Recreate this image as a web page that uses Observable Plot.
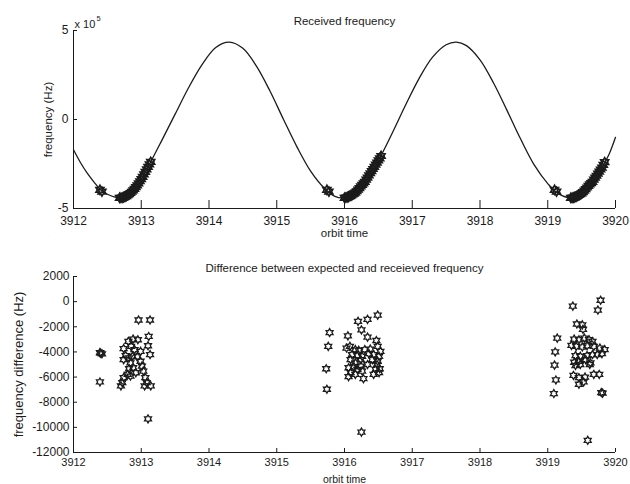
<!DOCTYPE html>
<html><head><meta charset="utf-8">
<script src="https://cdn.jsdelivr.net/npm/d3@7"></script>
<script src="https://cdn.jsdelivr.net/npm/@observablehq/plot@0.6"></script>
<style>
body{margin:0;background:#fff;}
#chart svg{display:block;}
</style>
</head><body><div id="chart"></div>
<script>
// ---- Data ----
const timeTicks = [3912, 3913, 3914, 3915, 3916, 3917, 3918, 3919, 3920];
const freqTicks = [-5e5, 0, 5e5];
const diffTicks = [-12000, -10000, -8000, -6000, -4000, -2000, 0, 2000];

// received frequency curve (orbit time, Hz)
const curveTime = [3912.00,3912.10,3912.20,3912.30,3912.40,3912.50,3912.60,3912.70,3912.80,3912.90,3913.00,3913.13,3913.30,3913.50,3913.70,3913.90,3914.10,3914.30,3914.50,3914.70,3914.90,3915.10,3915.30,3915.50,3915.70,3915.85,3916.00,3916.15,3916.30,3916.50,3916.70,3916.90,3917.10,3917.30,3917.50,3917.65,3917.80,3918.00,3918.20,3918.40,3918.60,3918.80,3919.00,3919.15,3919.35,3919.50,3919.65,3919.80,3919.90,3920.00];
const curveFreq = [-1.70e5,-2.40e5,-3.00e5,-3.50e5,-3.95e5,-4.20e5,-4.35e5,-4.40e5,-4.25e5,-3.90e5,-3.35e5,-2.45e5,-1.20e5,0.30e5,1.80e5,3.10e5,4.05e5,4.35e5,4.00e5,3.00e5,1.60e5,0.00e5,-1.55e5,-2.90e5,-3.85e5,-4.30e5,-4.40e5,-4.15e5,-3.50e5,-2.30e5,-0.80e5,0.80e5,2.30e5,3.50e5,4.20e5,4.35e5,4.15e5,3.35e5,2.05e5,0.50e5,-1.10e5,-2.55e5,-3.60e5,-4.15e5,-4.40e5,-4.15e5,-3.55e5,-2.70e5,-2.00e5,-1.00e5];

// star markers on the received frequency curve (orbit time, units of 1e5 Hz)
const topStarTime = [
  3912.39,3912.42,3912.68,3912.70,3912.72,3912.74,3912.76,3912.78,3912.80,3912.82,3912.84,3912.86,3912.88,3912.90,3912.92,3912.94,3912.96,3912.98,3913.00,3913.02,3913.04,3913.06,3913.08,3913.10,3913.12,3913.14,
  3915.74,3915.77,3916.00,3916.02,3916.04,3916.06,3916.08,3916.10,3916.12,3916.14,3916.16,3916.18,3916.20,3916.22,3916.24,3916.26,3916.28,3916.30,3916.32,3916.34,3916.36,3916.38,3916.40,3916.42,3916.44,3916.46,3916.48,3916.50,3916.52,3916.54,
  3919.10,3919.13,3919.34,3919.36,3919.38,3919.40,3919.42,3919.44,3919.46,3919.48,3919.50,3919.52,3919.54,3919.56,3919.58,3919.60,3919.62,3919.64,3919.66,3919.68,3919.70,3919.72,3919.74,3919.76,3919.78,3919.80,3919.82,3919.84];
const topStarFreq = [
  -3.95,-4.05,-4.40,-4.40,-4.39,-4.37,-4.34,-4.30,-4.25,-4.19,-4.13,-4.06,-3.98,-3.90,-3.80,-3.70,-3.59,-3.47,-3.35,-3.22,-3.08,-2.94,-2.80,-2.66,-2.52,-2.38,
  -3.95,-4.05,-4.40,-4.39,-4.37,-4.34,-4.30,-4.26,-4.21,-4.16,-4.11,-4.03,-3.94,-3.85,-3.76,-3.67,-3.59,-3.50,-3.38,-3.26,-3.14,-3.02,-2.90,-2.78,-2.66,-2.54,-2.42,-2.30,-2.18,-2.05,
  -3.95,-4.05,-4.40,-4.40,-4.39,-4.37,-4.33,-4.29,-4.24,-4.19,-4.15,-4.08,-4.00,-3.91,-3.82,-3.73,-3.64,-3.57,-3.50,-3.38,-3.27,-3.16,-3.04,-2.93,-2.81,-2.70,-2.55,-2.40];

// difference between expected and received frequency (orbit time, Hz)
const diffTime = [
  3912.39,3912.42,3912.40,3912.39,3912.96,3913.13,3913.11,3913.10,3913.13,3912.88,3912.95,3912.81,3912.85,3912.74,3912.90,3912.99,3912.77,3912.82,3912.87,3912.94,3912.74,3912.84,3912.99,3913.01,3912.82,3912.88,3912.80,3912.92,3913.03,3912.74,3912.84,3913.06,3912.72,3913.08,3912.70,3913.05,3913.14,3913.10,
  3915.78,3915.76,3915.73,3915.74,3916.25,3916.20,3916.34,3916.49,3916.25,3916.34,3916.05,3916.47,3916.03,3916.08,3916.16,3916.21,3916.30,3916.38,3916.49,3916.53,3916.11,3916.19,3916.26,3916.36,3916.43,3916.51,3916.09,3916.16,3916.24,3916.41,3916.49,3916.06,3916.14,3916.24,3916.34,3916.48,3916.09,3916.19,3916.26,3916.46,3916.52,3916.06,3916.16,3916.28,3916.43,3916.51,
  3919.14,3919.11,3919.10,3919.12,3919.09,3919.37,3919.78,3919.74,3919.43,3919.51,3919.52,3919.39,3919.46,3919.54,3919.61,3919.66,3919.35,3919.42,3919.51,3919.58,3919.68,3919.77,3919.84,3919.41,3919.48,3919.58,3919.66,3919.73,3919.80,3919.39,3919.46,3919.56,3919.63,3919.41,3919.48,3919.62,3919.38,3919.46,3919.55,3919.68,3919.76,3919.46,3919.53,3919.79,3919.81,3919.59];
const diffHz = [
  -4050,-4150,-4100,-6390,-1460,-1460,-2770,-3510,-4210,-2980,-3030,-3165,-3560,-3740,-3820,-3950,-4290,-4480,-4345,-4400,-4610,-4870,-4740,-5130,-5340,-5260,-5785,-5655,-5520,-6050,-5920,-6050,-6440,-6440,-6700,-6700,-6700,-9330,
  -2460,-3560,-5340,-6970,-10380,-1570,-1410,-1070,-2250,-2820,-2720,-3090,-3690,-3560,-3820,-3870,-3820,-3770,-3560,-3950,-4210,-4290,-4350,-4135,-4210,-4350,-4610,-4870,-4610,-4610,-4740,-5260,-5180,-5130,-5000,-5000,-5650,-5390,-5520,-5390,-5340,-5970,-5790,-6130,-5790,-5650,
  -2900,-4000,-5050,-6230,-7310,-360,110,-670,-1780,-1850,-2200,-2980,-3030,-2900,-3030,-3170,-3480,-3560,-3610,-3510,-3560,-3690,-3820,-4290,-4350,-4290,-4210,-4210,-4140,-4820,-4740,-4610,-4870,-5080,-5000,-5000,-5870,-6050,-6000,-5790,-5790,-6570,-6390,-7230,-7280,-11030];

// ---- Build ----
const curve = curveTime.map((t, i) => ({t, f: curveFreq[i]}));
const topStars = topStarTime.map((t, i) => ({t, f: topStarFreq[i] * 1e5}));
const diffs = diffTime.map((t, i) => ({t, d: diffHz[i]}));

const ink = "#1b1b1b";
const font = "'Liberation Sans', Arial, Helvetica, sans-serif";

// six-pointed star (hexagram) marker
const hexagram = {
  draw(ctx, size) {
    const R = Math.sqrt(size / Math.PI);
    const r = R / Math.sqrt(3);
    for (let i = 0; i < 12; i++) {
      const a = Math.PI / 2 + i * Math.PI / 6;
      const rad = i % 2 === 0 ? R : r;
      const x = rad * Math.cos(a), y = -rad * Math.sin(a);
      if (i === 0) ctx.moveTo(x, y); else ctx.lineTo(x, y);
    }
    ctx.closePath();
  }
};

const W = 630, H = 242, ML = 73, MR = 15;

const topPlot = Plot.plot({
  width: W, height: H,
  marginTop: 30, marginBottom: 34, marginLeft: ML, marginRight: MR,
  style: {fontFamily: font, fontSize: "12px", color: ink, background: "#fff"},
  x: {domain: [3912, 3920]},
  y: {domain: [-5e5, 5e5]},
  marks: [
    Plot.axisX(timeTicks, {tickSize: 0, tickPadding: 8, label: null, tickFormat: d => String(d), fontSize: 12}),
    Plot.axisY(freqTicks, {tickSize: 0, tickPadding: 5, label: null, tickFormat: d => String(d / 1e5), fontSize: 12}),
    Plot.tickX(timeTicks, {x: d => d, insetTop: 174 - 4, stroke: ink}),
    Plot.tickY(freqTicks, {y: d => d, insetRight: 542 - 4, stroke: ink}),
    Plot.ruleX([3912], {stroke: ink}),
    Plot.ruleY([-5e5], {stroke: ink}),
    Plot.line(curve, {x: "t", y: "f", curve: "catmull-rom", stroke: ink, strokeWidth: 1.3}),
    Plot.dot(topStars, {x: "t", y: "f", symbol: hexagram, r: 4.5, stroke: ink, strokeWidth: 1.7, fill: "none"}),
    Plot.text(["Received frequency"], {frameAnchor: "top", dy: -14, fontSize: 11.5, fill: ink}),
    Plot.text(["orbit time"], {frameAnchor: "bottom", dy: 28, fontSize: 11.5, fill: ink}),
    Plot.text(["frequency (Hz)"], {frameAnchor: "left", dx: -25, rotate: -90, textAnchor: "middle", fontSize: 11.5, fill: ink}),
    Plot.text(["x 10"], {frameAnchor: "top-left", dx: 1, dy: -10, textAnchor: "start", fontSize: 11, fill: ink}),
    Plot.text(["5"], {frameAnchor: "top-left", dx: 23, dy: -15, textAnchor: "start", fontSize: 7.5, fill: ink})
  ]
});

const botPlot = Plot.plot({
  width: W, height: H,
  marginTop: 34, marginBottom: 32, marginLeft: ML, marginRight: MR,
  style: {fontFamily: font, fontSize: "12px", color: ink, background: "#fff"},
  x: {domain: [3912, 3920]},
  y: {domain: [-12000, 2000]},
  marks: [
    Plot.axisX(timeTicks, {tickSize: 0, tickPadding: 6, label: null, tickFormat: d => String(d), fontSize: 11}),
    Plot.axisY(diffTicks, {tickSize: 0, tickPadding: 4, label: null, tickFormat: d => String(d), fontSize: 12}),
    Plot.tickX(timeTicks, {x: d => d, insetTop: 176 - 4, stroke: ink}),
    Plot.tickY(diffTicks, {y: d => d, insetRight: 542 - 4, stroke: ink}),
    Plot.ruleX([3912], {stroke: ink}),
    Plot.ruleY([-12000], {stroke: ink}),
    Plot.dot(diffs, {x: "t", y: "d", symbol: hexagram, r: 4, stroke: ink, strokeWidth: 1.3, fill: "none"}),
    Plot.text(["Difference between expected and receieved frequency"], {frameAnchor: "top", dy: -13, fontSize: 11.5, fill: ink}),
    Plot.text(["orbit time"], {frameAnchor: "bottom", dy: 30.5, lineAnchor: "bottom", fontSize: 10.5, fill: ink}),
    Plot.text(["frequency difference (Hz)"], {frameAnchor: "left", dx: -55, rotate: -90, textAnchor: "middle", fontSize: 13, fill: ink})
  ]
});

document.getElementById("chart").append(topPlot, botPlot);
</script>
</body></html>
